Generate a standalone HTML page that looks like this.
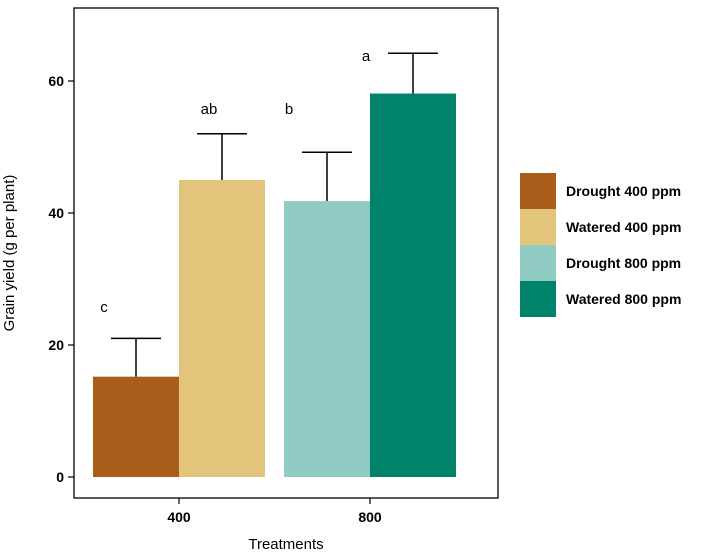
<!DOCTYPE html>
<html><head><meta charset="utf-8"><style>
body{margin:0;background:#fff;font-family:"Liberation Sans",Arial,sans-serif}
</style></head><body>
<svg id="chart" width="703" height="553" xmlns="http://www.w3.org/2000/svg" font-family="Liberation Sans, Arial, sans-serif">
<rect x="74" y="8" width="424" height="490" fill="#fff" stroke="#000" stroke-width="1.3"/>
<g id="bars"></g>
<g id="axes"></g>
<text x="286" y="549" text-anchor="middle" font-size="15">Treatments</text>
<text transform="translate(14,253) rotate(-90)" text-anchor="middle" font-size="15">Grain yield (g per plant)</text>
<g id="legend"></g>
</svg>
<script>
const categories=["Drought 400 ppm","Watered 400 ppm","Drought 800 ppm","Watered 800 ppm"];
const values=[15.2,45,41.8,58.1];
const errors=[21,52,49.2,64.2];
const letters=["c","ab","b","a"];
const letterLevels=[25,55,55,63];
const colors=["#a95d1a","#e3c47b","#8fcbc3","#00826b"];
const yTicks=[0,20,40,60];
const xGroups=["400","800"];
const NS="http://www.w3.org/2000/svg";
const y=v=>477-v*6.6;
const barX=[93,179,284,370];const barW=86;
const groupX=g=>179+g*191;
function mk(tag,attrs,parent){const e=document.createElementNS(NS,tag);for(const k in attrs)e.setAttribute(k,attrs[k]);parent.appendChild(e);return e;}
const bars=document.getElementById('bars'),axes=document.getElementById('axes'),legend=document.getElementById('legend');
values.forEach((v,i)=>{
 const cx=barX[i]+barW/2;
 const eb=mk('path',{d:`M${cx},${y(v)}V${y(errors[i])}M${cx-25},${y(errors[i])}H${cx+25}`,stroke:'#000','stroke-width':1.5,fill:'none'},bars);
 
 
 const r=mk('rect',{x:barX[i],y:y(v),width:barW,height:y(0)-y(v),fill:colors[i]},bars);
 
 
 const t=mk('text',{x:[104,209,289,366][i],y:y(letterLevels[i]),'text-anchor':'middle','font-size':15},bars);
 t.textContent=letters[i];
 
 
});
yTicks.forEach(v=>{
 const l=mk('line',{x1:68,x2:74,y1:y(v),y2:y(v),stroke:'#000','stroke-width':1.2},axes);
 
 
 const t=mk('text',{x:64,y:y(v)+5,'text-anchor':'end','font-size':14,'font-weight':'bold'},axes);
 t.textContent=v;
 
 
});
xGroups.forEach((g,i)=>{
 const l=mk('line',{x1:groupX(i),x2:groupX(i),y1:498,y2:504,stroke:'#000','stroke-width':1.2},axes);
 
 
 const t=mk('text',{x:groupX(i),y:522,'text-anchor':'middle','font-size':14,'font-weight':'bold'},axes);
 t.textContent=g;
 
 
});
categories.forEach((c,i)=>{
 const r=mk('rect',{x:520,y:173+i*36,width:36,height:36,fill:colors[i]},legend);
 
 
 const t=mk('text',{x:566,y:196+i*36,'font-size':14,'font-weight':'bold'},legend);
 t.textContent=c;
 
 
});
</script>
</body></html>
